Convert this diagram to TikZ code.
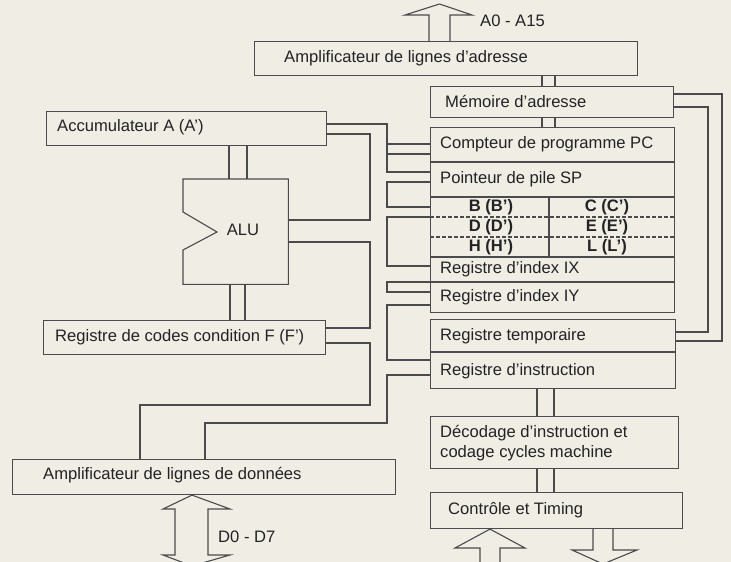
\documentclass[tikz,border=0pt]{standalone}
\usepackage{fontspec}
\setmainfont{Liberation Sans}
\definecolor{bgc}{RGB}{240,237,229}
\definecolor{linec}{RGB}{75,75,75}
\definecolor{textc}{RGB}{35,35,35}
\begin{document}
\begin{tikzpicture}[x=1pt,y=-1pt,
  box/.style={draw=linec, line width=1.1pt, inner sep=0pt, anchor=north west},
  lbl/.style={anchor=west, inner sep=0pt, text=textc, font=\fontsize{16.6}{20}\selectfont},
  blbl/.style={anchor=center, inner sep=0pt, text=textc, font=\fontsize{16.6}{20}\selectfont\bfseries},
  wire/.style={draw=linec, line width=1.1pt, line join=miter},
  dwire/.style={draw=linec, line width=1.1pt, dash pattern=on 3.5pt off 2.5pt},
]
\fill[bgc] (0,0) rectangle (731,562);
\useasboundingbox (0,0) rectangle (731,562);

% boxes
\node[box, minimum width=383pt, minimum height=34pt] (addr) at (254,41) {};
\node[box, minimum width=243pt, minimum height=31pt] (mem) at (430,86) {};
\node[box, minimum width=244pt, minimum height=185pt] (regs) at (430,127) {};
\node[box, minimum width=245pt, minimum height=69pt] (tmp) at (430,319) {};
\node[box, minimum width=248pt, minimum height=52pt] (dec) at (430,416) {};
\node[box, minimum width=252pt, minimum height=36pt] (ctl) at (430,492) {};
\node[box, minimum width=280pt, minimum height=34pt] (acc) at (46,111) {};
\node[box, minimum width=282pt, minimum height=34pt] (freg) at (43,320) {};
\node[box, minimum width=383pt, minimum height=35pt] (data) at (12,459) {};
\node[anchor=north west, inner sep=0pt, minimum width=105pt, minimum height=105pt] (alu) at (183,179) {};
\draw[wire] (alu.north west) -- (alu.north east) -- (alu.south east) -- (alu.south west)
  -- (183,250) -- (217,232) -- (183,212) -- cycle;

% register dividers
\draw[wire] (regs.west |- 0,162) -- (regs.east |- 0,162);
\draw[wire] (regs.west |- 0,197) -- (regs.east |- 0,197);
\draw[dwire] (regs.west |- 0,217) -- (regs.east |- 0,217);
\draw[dwire] (regs.west |- 0,237) -- (regs.east |- 0,237);
\draw[wire] (regs.west |- 0,257) -- (regs.east |- 0,257);
\draw[wire] (regs.west |- 0,282) -- (regs.east |- 0,282);
\draw[wire] (549,197) -- (549,257);
\draw[wire] (tmp.west |- 0,352) -- (tmp.east |- 0,352);

% texts
\node[lbl] (addrT) at (284,58) {Amplificateur de lignes d'adresse};
\node[lbl] (memT) at (445,101) {Mémoire d'adresse};
\node[lbl] (pcT) at (440,144) {Compteur de programme PC};
\node[lbl] (spT) at (440,179) {Pointeur de pile SP};
\node[blbl] (bT) at (491,207) {B (B’)};
\node[blbl] (cT) at (607,207) {C (C’)};
\node[blbl] (dT) at (491,227) {D (D’)};
\node[blbl] (eT) at (607,227) {E (E’)};
\node[blbl] (hT) at (491,247) {H (H’)};
\node[blbl] (lT) at (607,247) {L (L’)};
\node[lbl] (ixT) at (440,269) {Registre d’index IX};
\node[lbl] (iyT) at (440,297) {Registre d’index IY};
\node[lbl] (tmpT) at (440,336) {Registre temporaire};
\node[lbl] (insT) at (440,371) {Registre d'instruction};
\node[lbl, align=left] (decT) at (440,443) {Décodage d'instruction et\\codage cycles machine};
\node[lbl] (ctlT) at (448,510) {Contrôle et Timing};
\node[lbl] (accT) at (57,127) {Accumulateur A (A')};
\node[lbl] (fT) at (55,337) {Registre de codes condition F (F')};
\node[lbl] (dataT) at (43,475) {Amplificateur de lignes de données};
\node[lbl, anchor=center] (aluT) at (243,230) {ALU};
\node[lbl] (aT) at (480,21) {A0 - A15};
\node[lbl] (dlT) at (218,537) {D0 - D7};

% wide arrows
\draw[wire] (429,0 |- addr.north) -- (429,15) -- (405,15) -- (439.5,4) -- (472,15) -- (450,15) -- (450,0 |- addr.north);
\draw[wire] (163,509) -- (192,0 |- data.south) -- (230,509) -- (208,509)
  -- (208,555) -- (230,555) -- (192,566) -- (163,555) -- (175,555) -- (175,509) -- cycle;
\draw[wire] (480,565) -- (480,548) -- (455,548) -- (490,0 |- ctl.south) -- (525,548) -- (500,548) -- (500,565);
\draw[wire] (593,0 |- ctl.south) -- (593,550) -- (572,550) -- (603,564) -- (637,550) -- (613,550) -- (613,0 |- ctl.south);

% double links on right column
\draw[wire] (542,0 |- addr.south) -- (542,0 |- mem.north);
\draw[wire] (555,0 |- addr.south) -- (555,0 |- mem.north);
\draw[wire] (542,0 |- mem.south) -- (542,0 |- regs.north);
\draw[wire] (555,0 |- mem.south) -- (555,0 |- regs.north);
\draw[wire] (537,0 |- tmp.south) -- (537,0 |- dec.north);
\draw[wire] (554,0 |- tmp.south) -- (554,0 |- dec.north);
\draw[wire] (537,0 |- dec.south) -- (537,0 |- ctl.north);
\draw[wire] (554,0 |- dec.south) -- (554,0 |- ctl.north);

% double links on left column
\draw[wire] (229,0 |- acc.south) -- (229,0 |- alu.north);
\draw[wire] (247,0 |- acc.south) -- (247,0 |- alu.north);
\draw[wire] (230,0 |- alu.south) -- (230,0 |- freg.north);
\draw[wire] (245,0 |- alu.south) -- (245,0 |- freg.north);

% bus connections
\draw[wire] (acc.east |- 0,124) -| (387,172) -- (regs.west |- 0,172);
\draw[wire] (387,144) -- (regs.west |- 0,144);
\draw[wire] (387,154) -- (regs.west |- 0,154);
\draw[wire] (acc.east |- 0,134) -| (370,220) -- (alu.east |- 0,220);
\draw[wire] (alu.east |- 0,242) -| (370,328) -- (freg.east |- 0,328);
\draw[wire] (freg.east |- 0,343) -| (370,405) -| (data.north -| 140,0);
\draw[wire] (tmp.west |- 0,375) -| (387,423) -| (data.north -| 205,0);
\draw[wire] (regs.west |- 0,182) -| (387,207) -- (regs.west |- 0,207);
\draw[wire] (regs.west |- 0,217) -| (387,266) -- (regs.west |- 0,266);
\draw[wire] (regs.west |- 0,282) -| (387,292) -- (regs.west |- 0,292);
\draw[wire] (regs.west |- 0,305) -| (387,360) -- (tmp.west |- 0,360);
\draw[wire] (mem.east |- 0,94) -| (722,341) -- (tmp.east |- 0,341);
\draw[wire] (mem.east |- 0,107) -| (708,332) -- (tmp.east |- 0,332);
\end{tikzpicture}
\end{document}
